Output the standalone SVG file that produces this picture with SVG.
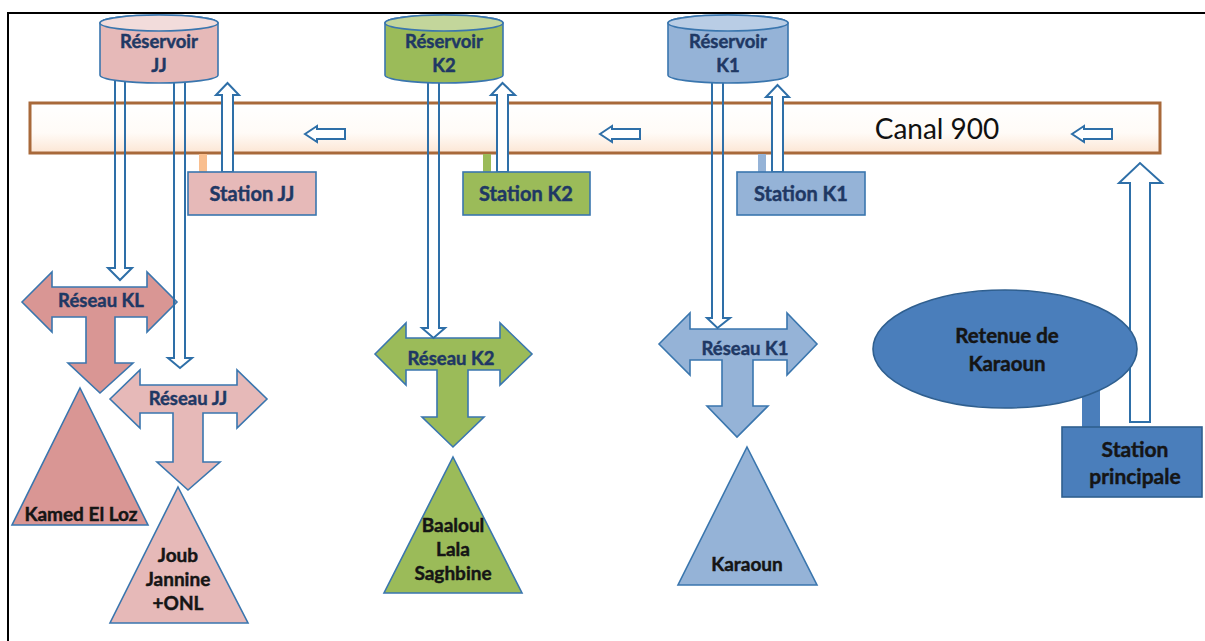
<svg xmlns="http://www.w3.org/2000/svg" width="1205" height="641" viewBox="0 0 1205 641">
<defs>
<style>
.lbl{font-family:Lato,"Liberation Sans",sans-serif;font-weight:bold;text-anchor:middle;stroke-width:0.45;}
.navy{fill:#1F3864;stroke:#1F3864;}
.blk{fill:#151515;stroke:#151515;}
.shp{stroke:#3A76AE;stroke-width:1.6;stroke-linejoin:miter;}
.hollow{fill:none;stroke:#2E6FA8;stroke-width:2;stroke-linejoin:miter;}
.hollowW{fill:#FFFFFF;stroke:#2E6FA8;stroke-width:2;stroke-linejoin:miter;}
.pinkD{fill:#D99694;}
.pinkL{fill:#E6B9B8;}
.green{fill:#9BBB59;}
.blueL{fill:#95B3D7;}
.blueD{fill:#4A7EBB;}
</style>
<linearGradient id="canalFill" x1="0" y1="0" x2="0" y2="1">
<stop offset="0" stop-color="#FFFFFF"/>
<stop offset="0.6" stop-color="#FFFBF7"/>
<stop offset="1" stop-color="#FCE6D4"/>
</linearGradient>
</defs>
<rect x="0" y="0" width="1205" height="641" fill="#FFFFFF"/>
<!-- outer frame -->
<rect x="8" y="13" width="1220" height="660" fill="none" stroke="#000000" stroke-width="2"/>

<!-- canal -->
<g id="canal">
<rect x="30" y="103" width="1130" height="50" fill="url(#canalFill)" stroke="#A8693A" stroke-width="3"/>
<text x="937" y="139" font-family="Lato,'Liberation Sans',sans-serif" font-size="28" text-anchor="middle" fill="#111111">Canal 900</text>
<path class="hollowW" d="M305 134 L317 126 L317 129 L345 129 L345 139 L317 139 L317 142 Z"/>
<path class="hollowW" d="M600 134 L612 126 L612 129 L640 129 L640 139 L612 139 L612 142 Z"/>
<path class="hollowW" d="M1072 134 L1084 126 L1084 129 L1112 129 L1112 139 L1084 139 L1084 142 Z"/>
</g>

<!-- station stubs -->
<rect x="199" y="154" width="8" height="18" fill="#F9BE8E"/>
<rect x="483" y="154" width="8" height="18" fill="#9BBB59"/>
<rect x="758" y="154" width="8" height="18" fill="#95B3D7"/>

<!-- reseaux -->
<g id="reseau-kl">
<path class="shp pinkD" d="M22 302 L52 272 L52 287 L147 287 L147 272 L177 302 L147 332 L147 317 L115 317 L115 363 L133 363 L100 393 L68 363 L86 363 L86 317 L52 317 L52 332 Z"/>
<text class="lbl navy" x="101" y="307" font-size="18.5">Réseau KL</text>
</g>
<g id="reseau-jj">
<path class="shp pinkL" d="M110 399 L140 370 L140 385 L237 385 L237 370 L267 399 L237 428 L237 413 L203 413 L203 462 L220 462 L188 490 L157 462 L173 462 L173 413 L140 413 L140 428 Z"/>
<text class="lbl navy" x="188" y="405" font-size="18.5">Réseau JJ</text>
</g>
<g id="reseau-k2">
<path class="shp green" d="M375 354 L406 323 L406 338 L500 338 L500 323 L532 354 L500 385 L500 370 L468 370 L468 417 L484 417 L453 447 L422 417 L437 417 L437 370 L406 370 L406 385 Z"/>
<text class="lbl navy" x="451" y="365" font-size="18.5">Réseau K2</text>
</g>
<g id="reseau-k1">
<path class="shp blueL" d="M659 344 L690 313 L690 329 L787 329 L787 313 L817 344 L787 375 L787 360 L753 360 L753 406 L768 406 L737 437 L707 406 L722 406 L722 360 L690 360 L690 375 Z"/>
<text class="lbl navy" x="745" y="355" font-size="18.5">Réseau K1</text>
</g>

<!-- triangles -->
<g id="kamed">
<path class="shp pinkD" d="M80 388 L148 525 L12 525 Z"/>
<text class="lbl blk" x="81" y="521" font-size="19">Kamed El Loz</text>
</g>
<g id="joub">
<path class="shp pinkL" d="M178 487 L248 623 L110 623 Z"/>
<text class="lbl blk" x="178" y="562" font-size="19">Joub</text>
<text class="lbl blk" x="178" y="586" font-size="19">Jannine</text>
<text class="lbl blk" x="178" y="610" font-size="19">+ONL</text>
</g>
<g id="baaloul">
<path class="shp green" d="M453 457 L522 593 L384 593 Z"/>
<text class="lbl blk" x="453" y="532" font-size="19">Baaloul</text>
<text class="lbl blk" x="453" y="556" font-size="19">Lala</text>
<text class="lbl blk" x="453" y="580" font-size="19">Saghbine</text>
</g>
<g id="karaoun">
<path class="shp blueL" d="M747 447 L817 585 L678 585 Z"/>
<text class="lbl blk" x="747" y="571" font-size="19">Karaoun</text>
</g>

<!-- connectors -->
<g id="connectors">
<path class="hollow" d="M115 76 L115 268 L108 268 L120 280 L132 268 L125 268 L125 76"/>
<path class="hollow" d="M174 76 L174 358 L168 358 L180 368 L192 358 L185 358 L185 76"/>
<path class="hollow" d="M428 76 L428 328 L422 328 L433.5 338 L445 328 L439 328 L439 76"/>
<path class="hollow" d="M712 76 L712 318 L707 318 L717.5 328 L730 318 L723 318 L723 76"/>
<path class="hollowW" d="M222 172 L222 95 L216 95 L227.5 83 L239 95 L233 95 L233 172 Z"/>
<path class="hollowW" d="M497 172 L497 95 L491 95 L502.5 83 L515 95 L508 95 L508 172 Z"/>
<path class="hollowW" d="M772 172 L772 97 L766 97 L777.5 85 L789 97 L783 97 L783 172 Z"/>
<path class="hollowW" d="M1130 422 L1130 183 L1119 183 L1140 163 L1162 183 L1150 183 L1150 422 Z"/>
<rect x="1082" y="390" width="18" height="40" fill="#4A7EBB"/>
</g>

<!-- reservoirs -->
<g id="reservoir-jj">
<path class="shp pinkL" d="M100 23 L100 75 A59 8 0 0 0 218 75 L218 23 A59 8 0 0 0 100 23 Z"/>
<ellipse class="shp" cx="159" cy="23" rx="59" ry="8" fill="#F2DCDB"/>
<text class="lbl navy" x="159" y="48" font-size="18.5">Réservoir</text>
<text class="lbl navy" x="159" y="72" font-size="18.5">JJ</text>
</g>
<g id="reservoir-k2">
<path class="shp green" d="M385 23 L385 75 A59 8 0 0 0 503 75 L503 23 A59 8 0 0 0 385 23 Z"/>
<ellipse class="shp" cx="444" cy="23" rx="59" ry="8" fill="#C3D69B"/>
<text class="lbl navy" x="444" y="48" font-size="18.5">Réservoir</text>
<text class="lbl navy" x="444" y="72" font-size="18.5">K2</text>
</g>
<g id="reservoir-k1">
<path class="shp blueL" d="M668 23 L668 75 A60 8 0 0 0 788 75 L788 23 A60 8 0 0 0 668 23 Z"/>
<ellipse class="shp" cx="728" cy="23" rx="60" ry="8" fill="#B9CDE5"/>
<text class="lbl navy" x="728" y="48" font-size="18.5">Réservoir</text>
<text class="lbl navy" x="728" y="72" font-size="18.5">K1</text>
</g>

<!-- stations -->
<g id="station-jj">
<rect class="shp pinkL" x="188" y="172" width="128" height="43"/>
<text class="lbl navy" x="252" y="201" font-size="20">Station JJ</text>
</g>
<g id="station-k2">
<rect class="shp green" x="463" y="172" width="127" height="43"/>
<text class="lbl navy" x="526" y="201" font-size="20">Station K2</text>
</g>
<g id="station-k1">
<rect class="shp blueL" x="737" y="172" width="128" height="43"/>
<text class="lbl navy" x="801" y="201" font-size="20">Station K1</text>
</g>

<!-- retenue -->
<g id="retenue">
<ellipse cx="1005" cy="349" rx="132" ry="59" fill="#4A7EBB" stroke="#2F5F8F" stroke-width="1.6"/>
<text class="lbl blk" x="1007" y="343" font-size="20.5">Retenue de</text>
<text class="lbl blk" x="1007" y="371" font-size="20.5">Karaoun</text>
</g>
<g id="station-principale">
<rect x="1062" y="427" width="140" height="70" fill="#4A7EBB" stroke="#2F5F8F" stroke-width="1.6"/>
<text class="lbl blk" x="1135" y="457" font-size="21">Station</text>
<text class="lbl blk" x="1135" y="484" font-size="21">principale</text>
</g>
</svg>
